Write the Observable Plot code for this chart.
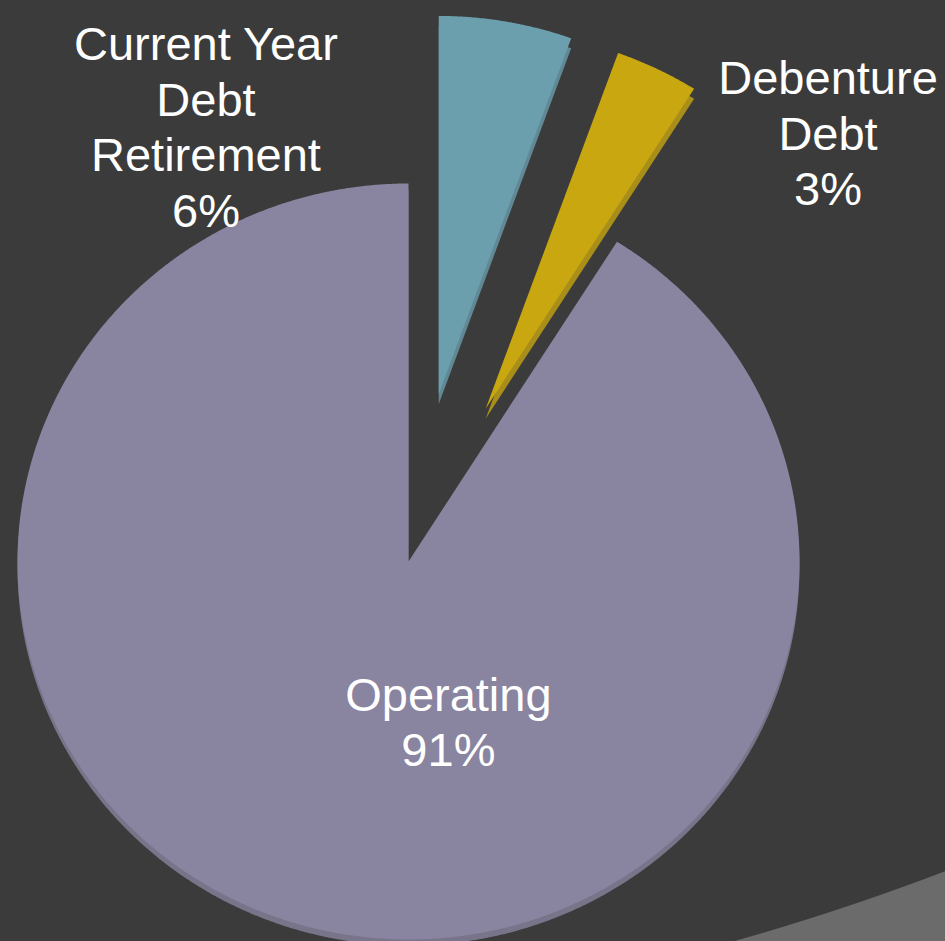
<!DOCTYPE html>
<html><head><meta charset="utf-8">
<script src="https://cdn.jsdelivr.net/npm/d3@7"></script>
<script src="https://cdn.jsdelivr.net/npm/@observablehq/plot@0.6"></script>
<style>
html,body{margin:0;padding:0;}
body{width:945px;height:941px;overflow:hidden;
  background:radial-gradient(circle 2500px at 54px -1464px, #3b3b3b 2499px, #6b6b6b 2500px);}
#chart svg{display:block;background:transparent;}
</style></head><body><div id="chart"></div>
<script>
// ---- data ----
const categories = ["Current Year Debt Retirement", "Debenture Debt", "Operating"];
const labelLines = ["Current Year\nDebt\nRetirement", "Debenture\nDebt", "Operating"];
const shares = [5.5, 3.45, 91.05];   // percent (labels show rounded values)
const exploded = [true, true, false];

// ---- style / layout ----
const colors = ["#6b9fae", "#c8a711", "#8984a0"];
const labelAt = [[-0.518, 1.153], [1.073, 1.136], [0.102, -0.421]]; // label anchors, pie-radius units
const W = 945, H = 941, CX = 408, CY = 561, RX = 391, RY = 378, EXPLODE = 0.45;
const WALL = [10, 10, 6]; // visible 3D side depth (px) per slice

const arcs = d3.pie().sort(null).value(d => d)(shares);
const pts = [], wallPts = [];
arcs.forEach((a, i) => {
  const mid = (a.startAngle + a.endAngle) / 2;
  const ox = exploded[i] ? EXPLODE * Math.sin(mid) : 0;
  const oy = exploded[i] ? EXPLODE * Math.cos(mid) : 0;
  const name = categories[i];
  const ring = [{u: ox, v: oy}];
  const n = Math.max(4, Math.ceil((a.endAngle - a.startAngle) / 0.005));
  for (let k = 0; k <= n; k++) {
    const t = a.startAngle + (a.endAngle - a.startAngle) * k / n;
    ring.push({u: ox + Math.sin(t), v: oy + Math.cos(t)});
  }
  ring.push({u: ox, v: oy});
  ring.forEach(p => {
    pts.push({name, u: p.u, v: p.v});
    wallPts.push({name, u: p.u, v: p.v - WALL[i] / RY});
  });
});
const labels = categories.map((c, i) => ({
  name: c, u: labelAt[i][0], v: labelAt[i][1],
  text: labelLines[i] + "\n" + Math.round(shares[i]) + "%"
}));

const chart = Plot.plot({
  width: W, height: H, margin: 0,
  x: {domain: [-CX / RX, (W - CX) / RX], axis: null},
  y: {domain: [-(H - CY) / RY, CY / RY], axis: null},
  color: {domain: categories, range: colors},
  style: {background: "transparent"},
  marks: [
    Plot.line(wallPts, {x: "u", y: "v", z: "name", fill: "name", fillOpacity: 0.78, stroke: "none"}),
    Plot.line(pts, {x: "u", y: "v", z: "name", fill: "name", stroke: "none"}),
    Plot.text(labels, {x: "u", y: "v", text: "text", fill: "white", fontSize: 47,
      lineHeight: 1.18, lineAnchor: "middle", fontFamily: "Liberation Sans, Arial, sans-serif"})
  ]
});
document.getElementById("chart").appendChild(chart);
</script></body></html>
